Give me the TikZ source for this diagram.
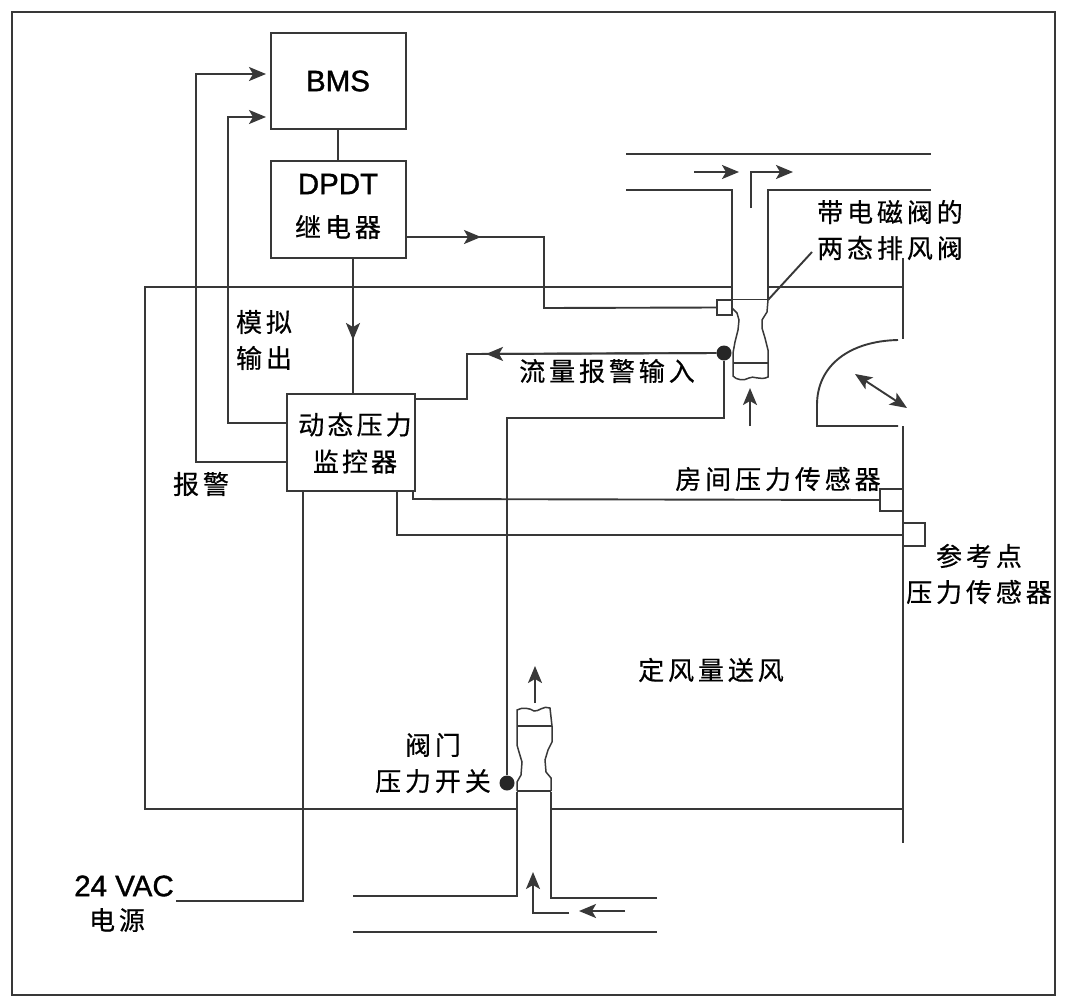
\documentclass[tikz,border=0pt]{standalone}
\usepackage{fontspec}
\setmainfont[FakeBold=1.2]{Liberation Sans}
\newfontfamily\cjkfont[LetterSpace=15,FakeBold=0.5]{Noto Sans CJK SC}
\newfontfamily\cjktight[LetterSpace=12,FakeBold=0.5]{Noto Sans CJK SC}
\usetikzlibrary{arrows.meta}
\definecolor{ink}{HTML}{383838}
\newcommand{\cjksize}{\fontsize{26}{36}\selectfont\cjkfont}
\newcommand{\cjktightsize}{\fontsize{26}{36}\selectfont\cjktight}
\newcommand{\latinsize}{\fontsize{29.5}{36}\selectfont}
\tikzset{
  wire/.style={draw=ink,line width=1.9pt,line join=miter},
  arrowed/.style={wire,-{Stealth[length=17pt,width=14pt,inset=4pt]}},
  twoway/.style={wire,{Stealth[length=17pt,width=14pt,inset=4pt]}-{Stealth[length=17pt,width=14pt,inset=4pt]}},
  box/.style={draw=ink,line width=2pt,fill=white,inner sep=0pt,align=center},
  sensor/.style={draw=ink,line width=2pt,fill=white,inner sep=0pt},
  dot/.style={circle,fill=black!85,inner sep=0pt,minimum size=15pt},
  label/.style={inner sep=0pt,align=center,text=black,font=\cjksize},
}
\begin{document}
\begin{tikzpicture}[x=1pt,y=-1pt]
\useasboundingbox (0,0) rectangle (1066,1005);
\fill[white] (0,0) rectangle (1066,1005);
\draw[draw=ink,line width=1.8pt] (12,12) rectangle (1055,995);

% Control boxes
\node[box,minimum width=135pt,minimum height=96pt] (bms) at (338,81) {};
\node[box,minimum width=135pt,minimum height=97pt] (relay) at (338,209.5) {};
\node[box,minimum width=128pt,minimum height=97pt] (monitor) at (351,442.5) {};
\node[label,font=\latinsize] (bmsName) at (bms.center) {BMS};
\node[label,font=\latinsize] (relayName) at (338,184) {DPDT};
\node[label] (relayKind) at (338,227) {继电器};
\node[label,font=\cjktightsize] (monitorName) at (355,443) {动态压力\\[1pt]监控器};

% Room wall
\coordinate (wallTL) at (145,287);
\coordinate (wallTa) at (732,287);
\coordinate (wallTb) at (768,287);
\coordinate (wallTR) at (903,287);
\coordinate (wallBL) at (145,809);
\coordinate (wallBa) at (517,809);
\coordinate (wallBb) at (552,809);
\coordinate (wallBR) at (903,809);
\draw[wire] (wallTb) -- (wallTR);
\draw[wire] (wallTa) -- (wallTL) -- (wallBL) -- (wallBa);
\draw[wire] (wallBb) -- (wallBR);
\coordinate (wallR1) at (903,258);
\coordinate (wallR2) at (903,339);
\coordinate (wallR3) at (903,426);
\coordinate (wallR4) at (903,843);
\draw[wire] (wallR1) -- (wallR2);
\draw[wire] (wallR3) -- (wallR4);

% Door swing
\draw[wire] (898,340) .. controls (850,341) and (817,365) .. (817,405) -- (817,426) -- (898,426);
\draw[twoway] (855,374) -- (907,408);

% Exhaust duct
\draw[wire] (626,154) -- (931,154);
\draw[wire] (626,190) -- (732,190) -- (732,300);
\draw[wire] (931,190) -- (768,190) -- (768,300);
\draw[arrowed] (694,172) -- (739,172);
\draw[arrowed] (751,208) -- (751,172) -- (793,172);

% Exhaust valve body
\draw[wire] (732,299.5) -- (768,299.5);
\draw[wire,line width=1.5pt] (732,308) -- (737,313) -- (739,320) -- (738,330) -- (735,342) -- (733,353) -- (733,376)
  .. controls (736,380) and (744,381) .. (749,378) .. controls (753,375) and (760,381) .. (768,377)
  -- (768,350) -- (765,338) -- (762,328) -- (762,320) -- (767,312) -- (768,300);
\draw[wire,line width=1.5pt] (733,363) -- (768,363);
\draw[arrowed] (750,426) -- (750,388);

% Supply duct
\draw[wire] (353,896) -- (517,896) -- (517,792);
\draw[wire] (657,898) -- (551,898) -- (551,792);
\draw[wire] (353,932) -- (657,932);
\draw[arrowed] (569,913) -- (533,913) -- (533,872);
\draw[arrowed] (625,911) -- (579,911);

% Supply valve body
\draw[wire] (517,791) -- (551,791);
\draw[wire,line width=1.5pt] (517,726) -- (552,726);
\draw[wire,line width=1.5pt] (517,791) -- (517,782) -- (521,775) -- (522,762) -- (519,752) -- (517,745) -- (517,710)
  .. controls (522,707) and (530,708) .. (534,711) .. controls (538,712) and (544,705) .. (550,708)
  -- (552,726) -- (552,742) -- (548,750) -- (545,760) -- (546,772) -- (551,778) -- (551,791);
\draw[arrowed] (535,703) -- (535,666);

% Sensors and switches
\node[sensor,minimum width=15pt,minimum height=15pt] (solenoid) at (724.5,307.5) {};
\node[sensor,minimum width=23pt,minimum height=22pt] (roomsensor) at (891.5,500) {};
\node[sensor,minimum width=22pt,minimum height=23pt] (refsensor) at (914,534.5) {};
\node[dot] (flowdot) at (724,353) {};
\node[dot] (switchdot) at (507,783) {};

% BMS signal wiring
\draw[wire] (bms.south) -- (relay.north);
\coordinate (alarmC) at (196,74);
\coordinate (alarmM) at (196,462);
\draw[arrowed] (monitor.west |- alarmM) -- (alarmM) -- (alarmC) -- (266,74);
\coordinate (analogC) at (228,117);
\coordinate (analogM) at (228,423);
\draw[arrowed] (monitor.west |- analogM) -- (analogM) -- (analogC) -- (266,117);

% Relay outputs
\coordinate (relayOut) at (relay.east |- 0,237);
\coordinate (relayBend) at (544,237);
\coordinate (relayTip) at (481,237);
\draw[wire] (relayOut) -- (relayBend) -- (544,308) -- (solenoid.west);
\draw[arrowed] (relayOut) -- (relayTip);
\coordinate (relayDown) at (353,258);
\coordinate (relayDownTip) at (353,340);
\draw[wire] (relayDown) -- (monitor.north -| relayDown);
\draw[arrowed] (relayDown) -- (relayDownTip);

% Flow alarm and switch wiring
\coordinate (flowBend) at (467,354);
\coordinate (flowTip) at (486,354);
\draw[wire] (flowdot.west) -- (flowBend) -- (467,399) -- (monitor.east |- 0,399);
\draw[arrowed] (flowdot.west) -- (flowTip);
\draw[wire] (flowdot.south) -- (724,418) -- (507,418) -- (switchdot.north);

% Pressure sensor wiring
\draw[wire] (413,491) -- (413,499) -- (roomsensor.west);
\draw[wire] (397,491) -- (397,535) -- (903,535);

% Power feed
\coordinate (powerEnd) at (176,901);
\draw[wire] (303,491) -- (303,901) -- (powerEnd);

% Labels
\node[label] (lblAnalog) at (264,340) {模拟\\输出};
\node[label] (lblAlarm) at (201,484) {报警};
\node[label] (lblFlow) at (607,371) {流量报警输入};
\node[label] (lblValve) at (890,230) {带电磁阀的\\两态排风阀};
\node[label] (lblRoom) at (778,479) {房间压力传感器};
\node[label] (lblRef) at (979,574) {参考点\\压力传感器};
\node[label] (lblSupply) at (711,670) {定风量送风};
\node[label] (lblSwitch) at (433,763) {阀门\\压力开关};
\node[label,font=\latinsize] (lblPower) at (124,886) {24 VAC};
\node[label] (lblSource) at (117,920) {电源};

% Leader to the exhaust valve
\draw[wire] (768,300) -- (812,252);
\end{tikzpicture}
\end{document}
